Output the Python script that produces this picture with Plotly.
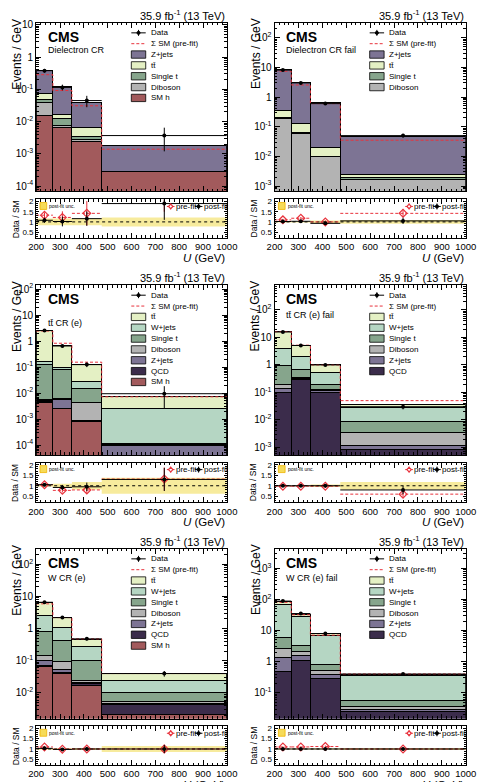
import math
import plotly.graph_objects as go

W, H = 489, 782
FONT = "Liberation Sans"

# ---------------- common binning / ticks ----------------
edges = [200, 270, 350, 475, 1000]
xtick_vals = [200, 300, 400, 500, 600, 700, 800, 900, 1000]
ratio_tick_vals = [0.5, 1, 1.5, 2]
ratio_tick_text = ["0.5", "1", "1.5", "2"]
ratio_range = [0.22, 2.1]
lumi_text = "35.9 fb<sup>-1</sup> (13 TeV)"
TT = "tt\u0304"

# ---------------- Panel 1: Dielectron CR (stack bottom -> top) ----------------
p1_smh = [0.016, 0.0068, 0.0024, 0.00028]
p1_dib = [0.022, 0.0006, 0.0003, 0.000002]
p1_st = [0.010, 0.0053, 0.0008, 0.000002]
p1_tt = [0.024, 0.0045, 0.0031, 0.000004]
p1_z = [0.31, 0.105, 0.034, 0.0016]
p1_data = [0.38, 0.115, 0.045, 0.0037]
p1_up = [0.05, 0.025, 0.018, 0.0028]
p1_dn = [0.05, 0.022, 0.017, 0.0025]
p1_prefit = [0.285, 0.092, 0.031, 0.0014]
p1_rpost = [1.08, 1.02, 1.16, 1.9]
p1_rpost_err = [0.12, 0.24, 0.35, 0.8]
p1_rpre = [1.33, 1.22, 1.42, 2.5]
p1_rpre_err = [0.14, 0.3, 0.6, 1.0]
p1_unc = [0.17, 0.17, 0.17, 0.22]

# ---------------- Panel 2: Dielectron CR fail ----------------
p2_dib = [0.19, 0.060, 0.0098, 0.0017]
p2_st = [0.01, 0.006, 0.0004, 0.0003]
p2_tt = [0.16, 0.06, 0.0098, 0.0004]
p2_z = [7.9, 2.85, 0.62, 0.045]
p2_data = [8.1, 3.0, 0.6, 0.05]
p2_up = [0.3, 0.15, 0.05, 0.007]
p2_dn = [0.3, 0.15, 0.05, 0.007]
p2_prefit = [7.4, 2.55, 0.6, 0.035]
p2_rpost = [1.02, 1.03, 0.93, 1.05]
p2_rpost_err = [0.05, 0.06, 0.08, 0.15]
p2_rpre = [1.1, 1.18, 1.0, 1.42]
p2_rpre_err = [0.05, 0.06, 0.08, 0.2]
p2_unc = [0.03, 0.03, 0.07, 0.09]

# ---------------- Panel 3: ttbar CR (e) ----------------
p3_smh = [0.0045, 0.0025, 0.0008, 0.00003]
p3_qcd = [0.0002, 0.0001, 0.00002, 0.000005]
p3_z = [0.0005, 0.003, 0.00003, 0.000065]
p3_dib = [0.0003, 0.0004, 0.00335, 0.00001]
p3_st = [0.1245, 0.072, 0.0108, 0.00001]
p3_w = [0.035, 0.017, 0.012, 0.00248]
p3_tt = [2.435, 0.605, 0.103, 0.0048]
p3_data = [2.55, 0.65, 0.125, 0.0095]
p3_up = [0.15, 0.07, 0.025, 0.009]
p3_dn = [0.15, 0.07, 0.025, 0.007]
p3_prefit = [2.45, 0.83, 0.155, 0.0072]
p3_rpost = [1.05, 0.92, 0.95, 1.3]
p3_rpost_err = [0.06, 0.12, 0.2, 0.55]
p3_rpre = [1.05, 0.78, 0.8, 1.32]
p3_rpre_err = [0.06, 0.1, 0.17, 0.55]
p3_unc = [0.04, 0.1, 0.18, 0.38]

# ---------------- Panel 4: ttbar CR (e) fail ----------------
p4_qcd = [0.1, 0.29, 0.1, 0.00085]
p4_z = [0.04, 0.03, 0.015, 0.00035]
p4_dib = [0.06, 0.03, 0.015, 0.0024]
p4_st = [0.75, 0.31, 0.07, 0.0054]
p4_w = [2.85, 1.29, 0.31, 0.018]
p4_tt = [12.7, 3.25, 0.49, 0.0105]
p4_data = [15.8, 5.1, 1.0, 0.030]
p4_up = [0.6, 0.25, 0.07, 0.006]
p4_dn = [0.6, 0.25, 0.07, 0.006]
p4_prefit = [16.2, 5.2, 1.0, 0.05]
p4_rpost = [1.0, 1.0, 1.0, 0.8]
p4_rpost_err = [0.03, 0.04, 0.08, 0.2]
p4_rpre = [0.98, 0.98, 0.98, 0.6]
p4_rpre_err = [0.03, 0.04, 0.08, 0.15]
p4_unc = [0.02, 0.02, 0.06, 0.18]

# ---------------- Panel 5: W CR (e) ----------------
p5_smh = [0.065, 0.041, 0.017, 0.0021]
p5_qcd = [0.005, 0.002, 0.002, 0.0023]
p5_z = [0.035, 0.012, 0.002, 0.0004]
p5_dib = [0.045, 0.04, 0.004, 0.0006]
p5_st = [0.64, 0.345, 0.075, 0.0046]
p5_w = [1.71, 0.61, 0.18, 0.015]
p5_tt = [3.9, 1.15, 0.19, 0.015]
p5_data = [6.6, 2.2, 0.48, 0.04]
p5_up = [0.35, 0.15, 0.05, 0.008]
p5_dn = [0.35, 0.15, 0.05, 0.008]
p5_prefit = [5.9, 2.2, 0.48, 0.04]
p5_rpost = [1.03, 0.98, 1.0, 1.0]
p5_rpost_err = [0.05, 0.06, 0.1, 0.2]
p5_rpre = [1.1, 0.99, 1.0, 1.0]
p5_rpre_err = [0.05, 0.06, 0.1, 0.2]
p5_unc = [0.04, 0.03, 0.05, 0.14]

# ---------------- Panel 6: W CR (e) fail ----------------
p6_qcd = [0.5, 1.1, 0.29, 0.025]
p6_z = [0.9, 0.5, 0.09, 0.004]
p6_dib = [1.2, 0.5, 0.14, 0.006]
p6_st = [3.2, 1.3, 0.26, 0.022]
p6_w = [62.2, 24.1, 6.32, 0.313]
p6_tt = [19.0, 6.0, 0.9, 0.03]
p6_data = [88.0, 35.0, 8.0, 0.40]
p6_up = [2.5, 1.3, 0.35, 0.025]
p6_dn = [2.5, 1.3, 0.35, 0.025]
p6_prefit = [80.0, 32.0, 7.1, 0.40]
p6_rpost = [1.0, 1.0, 1.0, 1.0]
p6_rpost_err = [0.03, 0.04, 0.05, 0.07]
p6_rpre = [1.1, 1.1, 1.12, 1.0]
p6_rpre_err = [0.03, 0.04, 0.05, 0.07]
p6_unc = [0.02, 0.02, 0.03, 0.05]

# ---------------- styles ----------------
COLORS = {
    "Z+jets": "#7d7494",
    TT: "#e4f0c4",
    "W+jets": "#b5d6c3",
    "Single t": "#86a58c",
    "Diboson": "#b3b3b3",
    "SM h": "#a25a5c",
    "QCD": "#3b2c4b",
}
C_PRE = "#e8323c"
C_BAND = "rgba(243,224,105,0.65)"

panels = [
    dict(region="Dielectron CR",
         procs=[("SM h", p1_smh), ("Diboson", p1_dib), ("Single t", p1_st), (TT, p1_tt), ("Z+jets", p1_z)],
         data=p1_data, up=p1_up, dn=p1_dn, pre=p1_prefit, rpost=p1_rpost, rposte=p1_rpost_err,
         rpre=p1_rpre, rpree=p1_rpre_err, unc=p1_unc, yr=[-4.16, 1.06], dec=range(-4, 2), ldy=27.7),
    dict(region="Dielectron CR fail",
         procs=[("Diboson", p2_dib), ("Single t", p2_st), (TT, p2_tt), ("Z+jets", p2_z)],
         data=p2_data, up=p2_up, dn=p2_dn, pre=p2_prefit, rpost=p2_rpost, rposte=p2_rpost_err,
         rpre=p2_rpre, rpree=p2_rpre_err, unc=p2_unc, yr=[-3.18, 2.5], dec=range(-3, 3), ldy=27.7),
    dict(region=TT + " CR (e)",
         procs=[("SM h", p3_smh), ("QCD", p3_qcd), ("Z+jets", p3_z), ("Diboson", p3_dib),
                ("Single t", p3_st), ("W+jets", p3_w), (TT, p3_tt)],
         data=p3_data, up=p3_up, dn=p3_dn, pre=p3_prefit, rpost=p3_rpost, rposte=p3_rpost_err,
         rpre=p3_rpre, rpree=p3_rpre_err, unc=p3_unc, yr=[-4.38, 2.15], dec=range(-4, 3), ldy=37.5),
    dict(region=TT + " CR (e) fail",
         procs=[("QCD", p4_qcd), ("Z+jets", p4_z), ("Diboson", p4_dib),
                ("Single t", p4_st), ("W+jets", p4_w), (TT, p4_tt)],
         data=p4_data, up=p4_up, dn=p4_dn, pre=p4_prefit, rpost=p4_rpost, rposte=p4_rpost_err,
         rpre=p4_rpre, rpree=p4_rpre_err, unc=p4_unc, yr=[-3.28, 2.9], dec=range(-3, 3), ldy=29.5),
    dict(region="W CR (e)",
         procs=[("SM h", p5_smh), ("QCD", p5_qcd), ("Z+jets", p5_z), ("Diboson", p5_dib),
                ("Single t", p5_st), ("W+jets", p5_w), (TT, p5_tt)],
         data=p5_data, up=p5_up, dn=p5_dn, pre=p5_prefit, rpost=p5_rpost, rposte=p5_rpost_err,
         rpre=p5_rpre, rpree=p5_rpre_err, unc=p5_unc, yr=[-2.8, 2.48], dec=range(-2, 3), ldy=29.5),
    dict(region="W CR (e) fail",
         procs=[("QCD", p6_qcd), ("Z+jets", p6_z), ("Diboson", p6_dib),
                ("Single t", p6_st), ("W+jets", p6_w), (TT, p6_tt)],
         data=p6_data, up=p6_up, dn=p6_dn, pre=p6_prefit, rpost=p6_rpost, rposte=p6_rpost_err,
         rpre=p6_rpre, rpree=p6_rpre_err, unc=p6_unc, yr=[-1.83, 3.62], dec=range(-1, 4), ldy=29.0),
]

# pixel geometry of the frames
cols = [(29.3, 227.7), (277.3, 476.3)]
rows_main = [(19.0, 188.3), (282.7, 453.3), (547.7, 718.3)]
rows_ratio = [(196.5, 235.0), (461.0, 500.7), (726.0, 765.0)]


def X(px):
    return px / W


def Y(py):
    return 1 - py / H


def sup(k):
    if k == 0:
        return "1"
    if k == 1:
        return "10"
    return "10<sup>%d</sup>" % k


centers = [(a + b) / 2 for a, b in zip(edges[:-1], edges[1:])]
widths = [b - a for a, b in zip(edges[:-1], edges[1:])]
halfw = [w / 2 for w in widths]

fig = go.Figure()
shapes = []
annotations = []
layout_axes = {}


def ann(x, y, text, size, xanchor="left", yanchor="middle", color="black", textangle=0, bold=False):
    if bold:
        text = "<b>" + text + "</b>"
    annotations.append(dict(xref="paper", yref="paper", x=X(x), y=Y(y), text=text, showarrow=False,
                            xanchor=xanchor, yanchor=yanchor, textangle=textangle,
                            font=dict(family=FONT, size=size, color=color)))


def rect(x0, y0, x1, y1, fill, lc="black", lw=0.8):
    shapes.append(dict(type="rect", xref="paper", yref="paper", x0=X(x0), x1=X(x1), y0=Y(y1), y1=Y(y0),
                       fillcolor=fill, line=dict(color=lc, width=lw), layer="above"))


def line(x0, y0, x1, y1, color="black", width=1, dash="solid"):
    shapes.append(dict(type="line", xref="paper", yref="paper", x0=X(x0), x1=X(x1), y0=Y(y0), y1=Y(y1),
                       line=dict(color=color, width=width, dash=dash), layer="above"))


def circle(cx, cy, r, fill, lc):
    shapes.append(dict(type="circle", xref="paper", yref="paper", x0=X(cx - r), x1=X(cx + r),
                       y0=Y(cy + r), y1=Y(cy - r), fillcolor=fill, line=dict(color=lc, width=1), layer="above"))


def diamond(cx, cy, r, color):
    path = "M %f,%f L %f,%f L %f,%f L %f,%f Z" % (X(cx), Y(cy - r), X(cx + r), Y(cy), X(cx), Y(cy + r), X(cx - r), Y(cy))
    shapes.append(dict(type="path", xref="paper", yref="paper", path=path, fillcolor="white",
                       line=dict(color=color, width=1.2), layer="above"))


axis_common = dict(showline=True, linecolor="black", linewidth=1, mirror="allticks", ticks="inside",
                   showgrid=False, zeroline=False, tickcolor="black", tickwidth=1)

for k, p in enumerate(panels):
    col, row = k % 2, k // 2
    L, R = cols[col]
    mt, mb = rows_main[row]
    rt, rb = rows_ratio[row]
    im, ir = 2 * k + 1, 2 * k + 2
    xm, ym = "x%d" % im, "y%d" % im
    xr, yr_ = "x%d" % ir, "y%d" % ir

    # ---- stacked histograms ----
    for name, vals in p["procs"]:
        fig.add_trace(go.Bar(x=centers, y=vals, width=widths, xaxis=xm, yaxis=ym, name=name,
                             marker=dict(color=COLORS[name], line=dict(color="black", width=1)),
                             showlegend=False))
    # pre-fit total
    fig.add_trace(go.Scatter(x=edges, y=p["pre"] + [p["pre"][-1]], mode="lines", line_shape="hv",
                             line=dict(color=C_PRE, width=1, dash="3px,2px"), xaxis=xm, yaxis=ym,
                             showlegend=False))
    # data
    fig.add_trace(go.Scatter(x=centers, y=p["data"], mode="markers", xaxis=xm, yaxis=ym, showlegend=False,
                             marker=dict(color="black", size=4),
                             error_y=dict(type="data", array=p["up"], arrayminus=p["dn"], color="black",
                                          thickness=1, width=0),
                             error_x=dict(type="data", array=halfw, color="black", thickness=1, width=0)))

    # ---- ratio panel ----
    lo = [1 - u for u in p["unc"]]
    hi = [1 + u for u in p["unc"]]
    fig.add_trace(go.Scatter(x=edges, y=lo + [lo[-1]], mode="lines", line_shape="hv",
                             line=dict(width=0, color=C_BAND), xaxis=xr, yaxis=yr_, showlegend=False))
    fig.add_trace(go.Scatter(x=edges, y=hi + [hi[-1]], mode="lines", line_shape="hv", fill="tonexty",
                             fillcolor=C_BAND, line=dict(width=0, color=C_BAND), xaxis=xr, yaxis=yr_,
                             showlegend=False))
    fig.add_trace(go.Scatter(x=[edges[0], edges[-1]], y=[1, 1], mode="lines",
                             line=dict(color="black", width=1, dash="dot"), xaxis=xr, yaxis=yr_,
                             showlegend=False))
    segx, segy = [], []
    for a, b, r in zip(edges[:-1], edges[1:], p["rpre"]):
        segx += [a, b, None]
        segy += [r, r, None]
    fig.add_trace(go.Scatter(x=segx, y=segy, mode="lines", line=dict(color=C_PRE, width=1, dash="3px,2px"),
                             xaxis=xr, yaxis=yr_, showlegend=False, connectgaps=False))
    fig.add_trace(go.Scatter(x=centers, y=p["rpre"], mode="markers", xaxis=xr, yaxis=yr_, showlegend=False,
                             marker=dict(symbol="diamond-open", color=C_PRE, size=6, line=dict(width=1.2)),
                             error_y=dict(type="data", array=p["rpree"], color=C_PRE, thickness=1, width=0)))
    fig.add_trace(go.Scatter(x=centers, y=p["rpost"], mode="markers", xaxis=xr, yaxis=yr_, showlegend=False,
                             marker=dict(symbol="circle", color="black", size=4),
                             error_y=dict(type="data", array=p["rposte"], color="black", thickness=1, width=0),
                             error_x=dict(type="data", array=halfw, color="black", thickness=1, width=0)))

    # ---- axes ----
    lmin, lmax = p["yr"]
    major = [10.0 ** d for d in p["dec"]]
    minor = [m * 10.0 ** d for d in range(-6, 5) for m in range(2, 10)
             if lmin <= math.log10(m * 10.0 ** d) <= lmax]
    layout_axes["xaxis%d" % im] = dict(axis_common, domain=[X(L), X(R)], anchor=ym, range=[200, 1000],
                                       tickmode="array", tickvals=xtick_vals, showticklabels=False, ticklen=5,
                                       minor=dict(tickmode="array", tickvals=list(range(200, 1001, 20)),
                                                  ticks="inside", ticklen=2.5, tickcolor="black"))
    layout_axes["yaxis%d" % im] = dict(axis_common, domain=[Y(mb), Y(mt)], anchor=xm, type="log",
                                       range=[lmin, lmax], tickmode="array", tickvals=major,
                                       ticktext=[sup(d) for d in p["dec"]], ticklen=5,
                                       tickfont=dict(family=FONT, size=10, color="black"),
                                       minor=dict(tickmode="array", tickvals=minor, ticks="inside",
                                                  ticklen=2.5, tickcolor="black"))
    layout_axes["xaxis%d" % ir] = dict(axis_common, domain=[X(L), X(R)], anchor=yr_, range=[200, 1000],
                                       tickmode="array", tickvals=xtick_vals, ticklen=5,
                                       tickfont=dict(family=FONT, size=9.5, color="black"),
                                       minor=dict(tickmode="array", tickvals=list(range(200, 1001, 20)),
                                                  ticks="inside", ticklen=2.5, tickcolor="black"))
    layout_axes["yaxis%d" % ir] = dict(axis_common, domain=[Y(rb), Y(rt)], anchor=xr, range=ratio_range,
                                       tickmode="array", tickvals=ratio_tick_vals, ticktext=ratio_tick_text,
                                       ticklen=3, tickfont=dict(family=FONT, size=8, color="black"),
                                       minor=dict(tickmode="array",
                                                  tickvals=[round(0.3 + 0.1 * i, 2) for i in range(18)],
                                                  ticks="inside", ticklen=1.5, tickcolor="black"))

    # ---- texts ----
    ann(R, mt - 8, lumi_text, 11, xanchor="right")
    ann(L + 10, mt + 13.7, "CMS", 14, bold=True)
    ann(L + 10, mt + p["ldy"], p["region"], 9)
    ann(L - 20, mt + 31, "Events / GeV", 12, xanchor="center", textangle=-90)
    ann(L - 21.5, (rt + rb) / 2, "Data / SM", 8.5, xanchor="center", textangle=-90)
    ann(R, rb + 20.3, "<i>U</i> (GeV)", 11.5, xanchor="right")

    # ---- main legend ----
    sx0, sx1, tx = L + 99, L + 114, L + 117.5
    ys = mt + 10
    line(sx0, ys, sx1, ys)
    line((sx0 + sx1) / 2, ys - 3, (sx0 + sx1) / 2, ys + 3)
    circle((sx0 + sx1) / 2, ys, 1.6, "black", "black")
    ann(tx, ys, "Data", 8)
    ys += 10.9
    line(sx0, ys, sx1, ys, color=C_PRE, width=1, dash="3px,2px")
    ann(tx, ys, "\u03a3 SM (pre-fit)", 8)
    for name, vals in reversed(p["procs"]):
        ys += 10.9
        rect(sx0, ys - 3.7, sx1, ys + 3.7, COLORS[name])
        ann(tx, ys, name, 8)

    # ---- ratio legend ----
    rect(L + 4, rt + 3, L + 11, rt + 10, "rgba(245,215,70,0.9)", lc="#f0b400", lw=0.8)
    ann(L + 11.5, rt + 6.5, "post-fit unc.", 5)
    ry = rt + 7
    line(L + 136, ry, L + 144, ry, color=C_PRE, width=1)
    line(L + 140, ry - 3, L + 140, ry + 3, color=C_PRE, width=1)
    diamond(L + 140, ry, 2.3, C_PRE)
    ann(L + 143.5, ry, "pre-fit", 8)
    line(L + 165, ry, L + 173, ry)
    line(L + 169, ry - 3, L + 169, ry + 3)
    circle(L + 169, ry, 1.6, "black", "black")
    ann(L + 172.5, ry, "post-fit", 8)

fig.update_layout(
    width=W, height=H, autosize=False,
    margin=dict(l=0, r=0, t=0, b=0),
    paper_bgcolor="white", plot_bgcolor="white",
    barmode="stack", showlegend=False,
    font=dict(family=FONT, color="black"),
    shapes=shapes, annotations=annotations,
    **layout_axes,
)

fig.write_html("out.html", config={"displayModeBar": False})
